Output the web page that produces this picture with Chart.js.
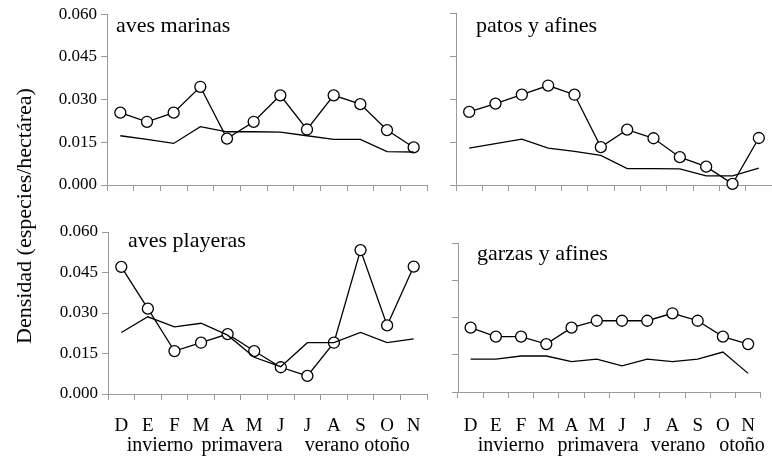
<!DOCTYPE html>
<html><head><meta charset="utf-8">
<script src="https://cdn.jsdelivr.net/npm/chart.js@4"></script>
<style>
body{margin:0;background:#fff;width:772px;height:463px;overflow:hidden;position:relative;font-family:'Liberation Serif','Times New Roman',serif;}
canvas.ch{position:absolute;left:0;top:0;}
.t{position:absolute;white-space:nowrap;line-height:1;color:#000;font-family:'Liberation Serif','Times New Roman',serif;}
</style></head><body>
<canvas class="ch" id="c1" width="772" height="463"></canvas>
<canvas class="ch" id="c2" width="772" height="463"></canvas>
<canvas class="ch" id="c3" width="772" height="463"></canvas>
<canvas class="ch" id="c4" width="772" height="463"></canvas>
<div id="txt"></div>
<script>
// ---- data ----
const months = ['D','E','F','M','A','M','J','J','A','S','O','N'];
const yTicks = [0, 0.015, 0.030, 0.045, 0.060];
const seasons = ['invierno','primavera','verano','otoño'];
const yTitle = 'Densidad (especies/hectárea)';
const panelTitles = ['aves marinas','patos y afines','aves playeras','garzas y afines'];

const marinasCirc = [0.0254,0.0222,0.0254,0.0345,0.0163,0.0222,0.0315,0.0195,0.0315,0.0284,0.0193,0.0132];
const marinasLine = [0.0173,0.0160,0.0146,0.0205,0.0187,0.0187,0.0186,0.0173,0.0160,0.0160,0.0117,0.0116];
const patosCirc   = [0.0255,0.0284,0.0315,0.0347,0.0315,0.0132,0.0193,0.0163,0.0097,0.0064,0.0004,0.0164];
const patosLine   = [0.0129,0.0144,0.0160,0.0129,0.0117,0.0103,0.0057,0.0057,0.0056,0.0032,0.0032,0.0059];
const playerasCirc= [0.0471,0.0316,0.0159,0.0190,0.0222,0.0159,0.0099,0.0067,0.0190,0.0533,0.0254,0.0472];
const playerasLine= [0.0228,0.0286,0.0249,0.0262,0.0218,0.0136,0.0101,0.0190,0.0190,0.0228,0.0190,0.0204];
const garzasCirc  = [0.0259,0.0223,0.0223,0.0193,0.0259,0.0287,0.0287,0.0287,0.0317,0.0287,0.0223,0.0193];
const garzasLine  = [0.0132,0.0132,0.0145,0.0145,0.0122,0.0132,0.0105,0.0132,0.0122,0.0132,0.0161,0.0075];

const FONT = "'Liberation Serif','Times New Roman',serif";
const AX = '#9a9a9a';
const XBOX = 60;

function panel(id, area, circ, line, showMonths, showY, labelPad){
  const [L,T,R,B] = area;
  new Chart(document.getElementById(id), {
    type:'line',
    data:{labels:months, datasets:[
      {data:line, borderColor:'#000', borderWidth:1.3, pointRadius:0, tension:0, clip:false},
      {data:circ, borderColor:'#000', borderWidth:1.3, pointRadius:5.5, pointBackgroundColor:'#fff',
       pointBorderColor:'#000', pointBorderWidth:1.3, tension:0, clip:false}
    ]},
    options:{responsive:false, animation:false, events:[],
      layout:{autoPadding:false, padding:{left:0, top:T, right:772-R, bottom:463-B-XBOX}},
      plugins:{legend:{display:false}, tooltip:{enabled:false}, title:{display:false}},
      scales:{
        x:{offset:true,
           grid:{offset:true, drawOnChartArea:false, drawTicks:true, tickLength:6, color:AX, lineWidth:1},
           border:{color:AX, width:1},
           ticks:{display:showMonths, padding:labelPad, color:'#000', font:{family:FONT, size:19}, maxRotation:0, autoSkip:false},
           afterFit:s=>{s.height=XBOX;}},
        y:{min:0, max:0.06,
           afterBuildTicks:s=>{s.ticks = yTicks.map(v=>({value:v}));},
           ticks:{display:showY, callback:v=>Number(v).toFixed(3), padding:4, color:'#000', font:{family:FONT, size:17}},
           grid:{drawOnChartArea:false, drawTicks:true, tickLength:6, color:AX, lineWidth:1},
           border:{color:AX, width:1},
           afterFit:s=>{s.width=L;}}
      }
    }
  });
}

panel('c1',[107,14,427,185], marinasCirc, marinasLine, false, true, 0);
panel('c2',[456,13,772,185], patosCirc, patosLine, false, false, 0);
panel('c3',[108,232,427,394], playerasCirc, playerasLine, true, true, 15);
panel('c4',[458,243,772,392], garzasCirc, garzasLine, true, false, 17);

// ---- text ----
const txt = document.getElementById('txt');
function addText(s, x, baseline, fs, align){
  const d = document.createElement('div');
  d.className='t'; d.textContent=s; d.style.fontSize=fs+'px';
  d.style.top=(baseline-0.8375*fs)+'px';
  d.style.left=x+'px';
  if(align==='center') d.style.transform='translateX(-50%)';
  txt.appendChild(d);
}
addText(panelTitles[0],116,32.5,22);
addText(panelTitles[1],476,32.5,22);
addText(panelTitles[2],128,247,22);
addText(panelTitles[3],477,260,22);
const seasonXL=[160,242,332,387], seasonXR=[511,598,678,742];
seasons.forEach((s,i)=>{ addText(s,seasonXL[i],451,20,'center'); addText(s,seasonXR[i],451,20,'center'); });
const yt=document.createElement('div');
yt.className='t'; yt.textContent=yTitle; yt.style.fontSize='22px';
yt.style.left='24px'; yt.style.top='216px';
yt.style.transform='translate(-50%,-50%) rotate(-90deg)';
txt.appendChild(yt);
</script>
</body></html>
